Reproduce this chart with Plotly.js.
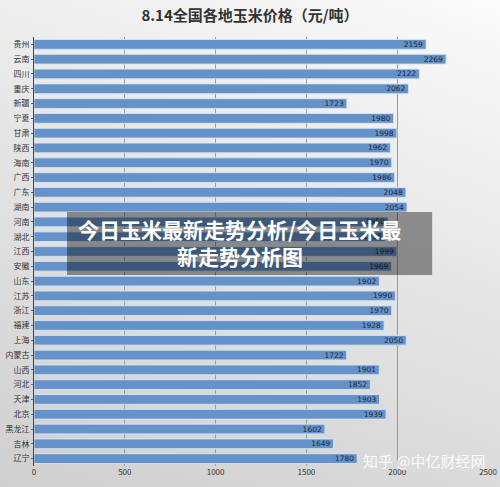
<!DOCTYPE html>
<html>
<head>
<meta charset="utf-8">
<script src="https://cdn.plot.ly/plotly-3.0.1.min.js"></script>
<style>
  html, body { margin: 0; padding: 0; }
  #chart { width: 500px; height: 487px;
    background: linear-gradient(200deg, #fbfbfb 0%, #e6e6e6 45%, #cfcfcf 100%); }
</style>
</head>
<body>
<div id="chart"></div>
<script>
const provinces = ["贵州","云南","四川","重庆","新疆","宁夏","甘肃","陕西","海南","广西","广东","湖南","河南","湖北","江西","安徽","山东","江苏","浙江","福建","上海","内蒙古","山西","河北","天津","北京","黑龙江","吉林","辽宁"];
const prices = [2159,2269,2122,2062,1723,1980,1998,1962,1970,1986,2048,2054,1950,1935,1999,1969,1902,1990,1970,1928,2050,1722,1901,1852,1903,1939,1602,1649,1780];
const xTicks = [0,500,1000,1500,2000,2500];
const chartTitle = "8.14全国各地玉米价格（元/吨）";
const bannerLine1 = "今日玉米最新走势分析/今日玉米最";
const bannerLine2 = "新走势分析图";
const watermark = "知乎 @中亿财经网";

const font = "'Noto Sans CJK SC', 'Noto Sans', sans-serif";

const trace = {
  type: "bar",
  orientation: "h",
  y: provinces,
  x: prices,
  marker: { color: "#6592c9", line: { color: "rgba(215,228,245,0.9)", width: 1 } },
  text: prices.map(String),
  textposition: "inside",
  insidetextanchor: "end",
  constraintext: "none",
  textfont: { size: 7.5, color: "#1c2738", family: "'DejaVu Sans', sans-serif" },
  cliponaxis: false,
  hoverinfo: "x+y"
};

const layout = {
  width: 500, height: 487,
  paper_bgcolor: "rgba(0,0,0,0)",
  plot_bgcolor: "rgba(0,0,0,0)",
  margin: { l: 34, r: 12, t: 37, b: 21 },
  bargap: 0.34,
  showlegend: false,
  title: { text: "<b>" + chartTitle + "</b>", font: { family: font, size: 15, color: "#333" },
           x: 0.5, xanchor: "center", y: 0.967, yanchor: "middle" },
  xaxis: {
    range: [0, 2500], tickvals: xTicks, ticktext: xTicks.map(String),
    showgrid: true, gridcolor: "#9a9a9a", gridwidth: 1, zeroline: false,
    tickfont: { family: font, size: 8, color: "#333" }, ticks: "", fixedrange: true
  },
  yaxis: {
    autorange: "reversed", showline: true, linecolor: "#444", linewidth: 1,
    ticks: "outside", ticklen: 2, tickcolor: "#666",
    tickfont: { family: font, size: 8, color: "#333" }, fixedrange: true
  },
  shapes: [{
    type: "rect", xref: "paper", yref: "paper",
    x0: 0.0727, x1: 0.877, y0: 0.4453, y1: 0.592,
    fillcolor: "rgba(0,0,0,0.4)", line: { width: 0 }, layer: "above"
  }],
  annotations: [
    { text: "<b>" + bannerLine1 + "</b>", xref: "paper", yref: "paper", x: 0.4537, y: 0.552,
      xanchor: "center", yanchor: "middle", showarrow: false,
      font: { family: font, size: 21, color: "#ffffff" } },
    { text: "<b>" + bannerLine2 + "</b>", xref: "paper", yref: "paper", x: 0.4537, y: 0.4895,
      xanchor: "center", yanchor: "middle", showarrow: false,
      font: { family: font, size: 21, color: "#ffffff" } },
    { text: watermark, xref: "paper", yref: "paper", x: 1.0, y: 0.012,
      xanchor: "right", yanchor: "middle", showarrow: false,
      font: { family: font, size: 15, color: "rgba(255,255,255,0.9)" } }
  ]
};

Plotly.newPlot("chart", [trace], layout, { displayModeBar: false, staticPlot: true });
</script>
</body>
</html>
